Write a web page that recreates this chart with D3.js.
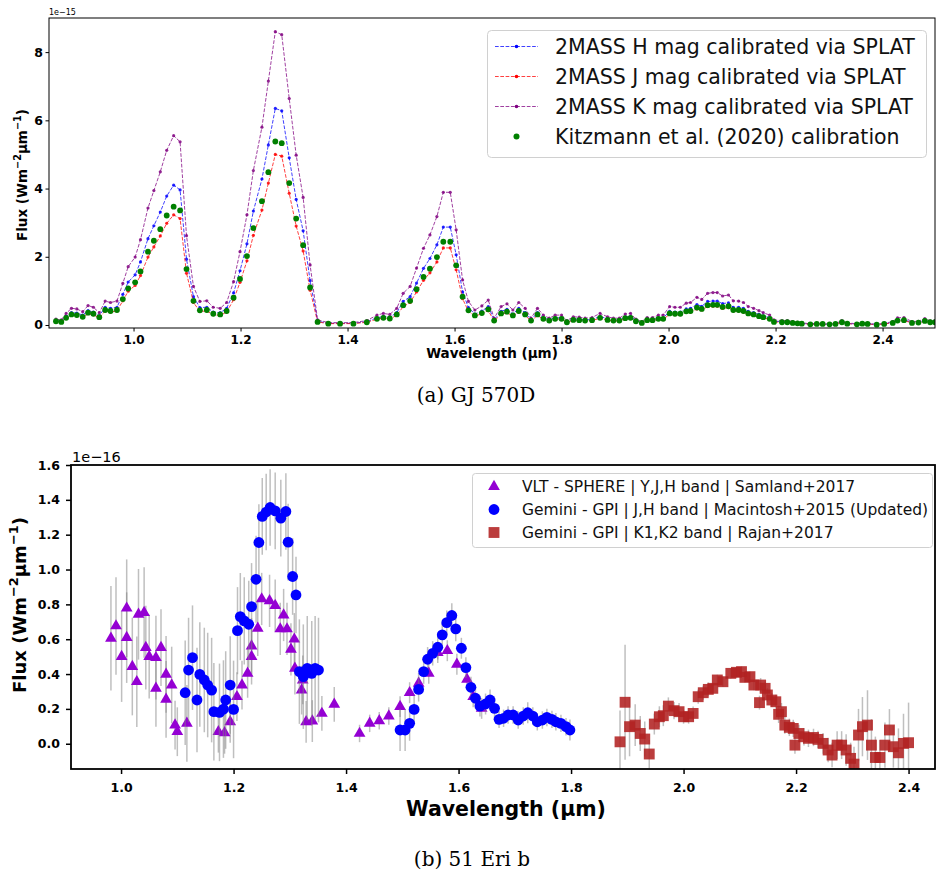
<!DOCTYPE html>
<html>
<head>
<meta charset="utf-8">
<script src="https://cdn.jsdelivr.net/npm/d3@7"></script>
<style>
  body { margin: 0; background: #fff; }
  svg { display: block; }
  text { font-family: "DejaVu Sans", sans-serif; }
  text.caption { font-family: "DejaVu Serif", "Liberation Serif", serif; }
</style>
</head>
<body>
<svg id="fig" width="936" height="872"></svg>
<script>
// ---------- (a) GJ 570D: SpeX spectrum flux-calibrated four ways (units of 1e-15) ----------
const gjWave = [
  0.855,0.865,0.874,0.884,0.894,0.905,0.915,0.925,0.936,0.947,0.957,0.969,0.980,0.990,1.003,1.013,1.027,1.038,1.050,1.062,1.075,1.087,1.099,1.112,1.124,1.137,1.149,1.162,1.174,1.187,1.199,1.212,1.224,1.240,1.252,1.265,1.277,1.291,1.304,1.317,1.330,1.344,
  1.364,1.386,1.411,1.436,1.455,1.467,1.479,1.492,1.504,1.517,1.529,1.542,1.554,1.567,1.579,1.592,1.603,1.615,1.626,1.638,1.651,1.663,1.674,1.687,1.698,1.709,1.720,1.732,1.743,1.755,1.766,1.777,1.788,1.800,1.810,1.822,1.833,1.844,1.857,1.872,1.886,1.897,1.908,
  1.919,1.929,1.939,1.950,1.960,1.970,1.981,1.990,2.002,2.012,2.022,2.033,2.041,2.053,2.062,2.073,2.083,2.091,2.101,2.112,2.121,2.131,2.140,2.149,2.159,2.169,2.177,2.189,2.197,2.212,2.222,2.232,2.241,2.249,2.265,2.277,2.288,2.301,2.312,2.324,2.334,2.352,2.362,2.372,2.389,2.403,2.419,2.428,2.440,2.455,2.467,2.479,2.489,2.498
];
const gjFluxH = [
  0.13,0.11,0.25,0.36,0.35,0.29,0.42,0.38,0.27,0.52,0.49,0.52,0.90,1.26,1.47,1.85,2.53,2.91,3.31,3.78,4.10,3.96,1.93,0.83,0.51,0.52,0.38,0.36,0.49,0.94,1.59,2.38,3.34,4.28,5.28,6.35,6.28,4.90,3.68,2.76,1.30,0.11,
  0.05,0.05,0.05,0.10,0.21,0.25,0.23,0.36,0.69,0.83,1.23,1.66,1.95,2.35,2.87,2.87,2.06,0.97,0.51,0.32,0.41,0.54,0.15,0.40,0.46,0.32,0.49,0.36,0.15,0.36,0.21,0.15,0.21,0.21,0.10,0.18,0.17,0.15,0.16,0.25,0.18,0.15,0.15,
  0.24,0.25,0.13,0.07,0.16,0.16,0.21,0.21,0.40,0.38,0.38,0.47,0.49,0.60,0.55,0.69,0.70,0.70,0.63,0.65,0.52,0.52,0.49,0.40,0.36,0.31,0.27,0.21,0.11,0.10,0.10,0.07,0.06,0.05,0.02,0.04,0.03,0.02,0.03,0.10,0.05,0.02,0.05,0.04,0.01,0.04,0.07,0.15,0.16,0.07,0.08,0.14,0.09,0.10
];
const gjFluxJ = [
  0.10,0.09,0.20,0.28,0.27,0.23,0.33,0.30,0.21,0.41,0.38,0.41,0.71,0.99,1.16,1.45,1.99,2.29,2.61,2.98,3.23,3.12,1.52,0.66,0.40,0.41,0.30,0.28,0.38,0.74,1.25,1.88,2.63,3.37,4.16,5.00,4.95,3.86,2.90,2.17,1.02,0.09,
  0.04,0.04,0.04,0.08,0.17,0.20,0.18,0.28,0.54,0.66,0.97,1.31,1.53,1.85,2.26,2.26,1.62,0.77,0.40,0.26,0.33,0.42,0.12,0.31,0.36,0.26,0.38,0.28,0.12,0.28,0.17,0.12,0.17,0.17,0.08,0.14,0.13,0.12,0.13,0.20,0.14,0.12,0.12,
  0.19,0.20,0.10,0.06,0.13,0.13,0.17,0.17,0.31,0.30,0.30,0.37,0.38,0.47,0.44,0.54,0.55,0.55,0.49,0.51,0.41,0.41,0.38,0.31,0.28,0.24,0.21,0.17,0.09,0.08,0.08,0.06,0.05,0.04,0.02,0.03,0.02,0.02,0.02,0.08,0.04,0.02,0.04,0.03,0.01,0.03,0.06,0.12,0.13,0.06,0.06,0.11,0.07,0.08
];
const gjFluxK = [
  0.17,0.15,0.34,0.49,0.47,0.39,0.57,0.52,0.36,0.70,0.66,0.70,1.22,1.71,1.99,2.50,3.43,3.94,4.49,5.12,5.55,5.37,2.62,1.13,0.69,0.71,0.52,0.49,0.66,1.27,2.15,3.23,4.53,5.80,7.15,8.60,8.51,6.64,4.98,3.74,1.76,0.15,
  0.07,0.07,0.07,0.13,0.29,0.34,0.31,0.49,0.93,1.13,1.67,2.25,2.64,3.18,3.89,3.89,2.79,1.32,0.69,0.44,0.56,0.73,0.20,0.54,0.62,0.44,0.66,0.49,0.20,0.49,0.29,0.20,0.29,0.29,0.13,0.24,0.23,0.20,0.22,0.34,0.24,0.20,0.20,
  0.32,0.34,0.17,0.10,0.22,0.22,0.29,0.29,0.54,0.52,0.52,0.64,0.66,0.81,0.75,0.93,0.95,0.95,0.85,0.88,0.71,0.70,0.66,0.54,0.49,0.42,0.36,0.29,0.15,0.13,0.13,0.10,0.08,0.07,0.03,0.05,0.04,0.03,0.04,0.13,0.07,0.03,0.07,0.05,0.02,0.05,0.10,0.21,0.22,0.10,0.11,0.19,0.12,0.13
];
const gjFluxKitzmann = [
  0.11,0.09,0.21,0.31,0.29,0.24,0.36,0.33,0.23,0.44,0.41,0.44,0.76,1.07,1.25,1.57,2.15,2.47,2.81,3.21,3.47,3.36,1.64,0.71,0.43,0.44,0.33,0.31,0.41,0.80,1.35,2.02,2.84,3.63,4.48,5.38,5.33,4.16,3.12,2.34,1.10,0.09,
  0.04,0.04,0.04,0.08,0.18,0.21,0.19,0.31,0.58,0.71,1.05,1.41,1.65,1.99,2.44,2.44,1.75,0.83,0.43,0.28,0.35,0.46,0.13,0.34,0.39,0.28,0.41,0.31,0.13,0.31,0.18,0.13,0.18,0.18,0.08,0.15,0.14,0.13,0.14,0.21,0.15,0.13,0.13,
  0.20,0.21,0.11,0.06,0.14,0.14,0.18,0.18,0.34,0.33,0.33,0.40,0.41,0.51,0.47,0.58,0.59,0.59,0.53,0.55,0.44,0.44,0.41,0.34,0.31,0.26,0.23,0.18,0.09,0.08,0.08,0.06,0.05,0.04,0.02,0.03,0.03,0.02,0.03,0.08,0.04,0.02,0.04,0.03,0.01,0.03,0.06,0.13,0.14,0.06,0.07,0.12,0.08,0.08
];
const gjSeriesNames = [
  "2MASS H mag calibrated via SPLAT",
  "2MASS J mag calibrated via SPLAT",
  "2MASS K mag calibrated via SPLAT",
  "Kitzmann et al. (2020) calibration"
];
const gjXTicks = [1.0, 1.2, 1.4, 1.6, 1.8, 2.0, 2.2, 2.4];
const gjYTicks = [0, 2, 4, 6, 8];

// ---------- (b) 51 Eri b: photometric spectra from three programmes (units of 1e-16) ----------
const sphereWave = [0.982,0.991,1.001,1.010,1.010,1.020,1.028,1.031,1.041,1.044,1.050,1.062,1.062,1.071,1.080,1.080,1.090,1.096,1.100,1.117,
  1.173,1.184,1.194,1.206,1.215,1.225,1.232,1.232,1.243,1.250,1.264,1.274,1.283,1.289,1.295,1.302,1.308,1.309,1.321,1.323,1.329,1.340,1.357,1.379,
  1.424,1.442,1.459,1.476,1.496,1.513,1.529,1.547,1.563,1.580,1.597,1.615,1.626,1.641];
const sphereFlux = [0.605,0.676,0.500,0.778,0.609,0.443,0.356,0.743,0.753,0.552,0.500,0.494,0.318,0.552,0.398,0.255,0.337,0.107,0.069,0.117,
  0.069,0.063,0.126,0.270,0.337,0.404,0.500,0.561,0.663,0.831,0.820,0.793,0.659,0.739,0.659,0.542,0.600,0.433,0.308,0.366,0.126,0.130,0.174,0.226,
  0.059,0.117,0.132,0.159,0.213,0.293,0.347,0.404,0.523,0.534,0.456,0.370,0.270,0.203];
const sphereErr = [0.30,0.28,0.26,0.28,0.26,0.28,0.26,0.26,0.26,0.24,0.24,0.24,0.22,0.22,0.22,0.22,0.22,0.14,0.14,0.22,
  0.12,0.12,0.12,0.14,0.14,0.14,0.16,0.16,0.16,0.15,0.15,0.15,0.15,0.15,0.15,0.15,0.15,0.15,0.14,0.14,0.12,0.12,0.10,0.10,
  0.05,0.05,0.05,0.05,0.06,0.06,0.06,0.06,0.06,0.06,0.06,0.06,0.06,0.06];

const gpiJHWave = [1.114,1.120,1.127,1.135,1.140,1.148,1.154,1.161,1.165,1.175,1.182,1.186,1.194,1.200,1.207,1.212,1.219,1.227,1.232,1.240,1.245,1.251,1.258,1.265,1.274,1.284,1.293,1.297,1.305,1.311,1.317,1.324,1.331,1.339,1.345,1.351,
  1.496,1.505,1.513,1.521,1.529,1.538,1.545,1.554,1.563,1.571,1.579,1.588,1.595,1.605,1.613,1.622,1.630,1.638,1.648,1.656,1.664,1.672,1.680,1.688,1.697,1.706,1.715,1.723,1.732,1.740,1.749,1.757,1.766,1.773,1.782,1.791,1.798];
const gpiJHFlux = [0.293,0.423,0.494,0.251,0.398,0.366,0.337,0.308,0.184,0.180,0.199,0.251,0.337,0.197,0.649,0.730,0.705,0.686,0.787,0.944,1.155,1.305,1.330,1.356,1.337,1.295,1.333,1.157,0.960,0.854,0.414,0.385,0.433,0.404,0.433,0.423,
  0.079,0.079,0.117,0.197,0.312,0.414,0.485,0.519,0.554,0.625,0.695,0.736,0.659,0.548,0.437,0.324,0.261,0.216,0.228,0.251,0.203,0.140,0.146,0.165,0.165,0.136,0.159,0.178,0.159,0.126,0.136,0.151,0.140,0.126,0.117,0.098,0.079];
const gpiJHErr = [0.30,0.30,0.30,0.30,0.30,0.30,0.30,0.30,0.28,0.28,0.28,0.28,0.28,0.28,0.25,0.25,0.25,0.25,0.25,0.25,0.22,0.22,0.22,0.22,0.22,0.22,0.22,0.22,0.22,0.22,0.30,0.30,0.30,0.30,0.30,0.30,
  0.12,0.12,0.10,0.08,0.07,0.07,0.07,0.07,0.07,0.07,0.07,0.07,0.07,0.06,0.06,0.06,0.06,0.06,0.06,0.06,0.06,0.05,0.05,0.05,0.05,0.05,0.05,0.06,0.05,0.05,0.05,0.05,0.05,0.05,0.05,0.05,0.06];

const gpiKWave = [1.887,1.896,1.904,1.914,1.923,1.931,1.939,1.948,1.957,1.964,1.973,1.983,1.992,2.000,2.009,2.017,2.026,2.035,2.044,2.052,2.060,2.070,2.084,2.094,2.103,2.109,2.118,2.125,2.135,2.137,2.145,2.149,2.157,2.164,2.169,2.174,2.180,2.188,2.195,2.198,2.205,2.214,2.222,2.231,2.239,2.248,2.257,2.264,2.273,2.281,2.289,2.297,2.303,2.311,2.318,2.327,2.334,2.341,2.349,2.358,2.366,2.373,2.382,2.391,2.400];
const gpiKFlux = [0.011,0.238,0.098,0.107,0.059,0.027,-0.059,0.113,0.155,0.161,0.216,0.190,0.184,0.155,0.155,0.174,0.270,0.293,0.312,0.318,0.366,0.356,0.404,0.410,0.414,0.381,0.385,0.337,0.236,0.337,0.318,0.280,0.251,0.241,0.169,0.184,0.107,0.094,0.088,-0.008,0.059,0.040,0.031,0.036,0.025,0.002,-0.036,-0.065,-0.008,-0.008,-0.036,-0.084,-0.117,0.050,0.098,0.107,-0.008,-0.079,-0.079,-0.008,0.079,-0.017,-0.052,0.002,0.006];
const gpiKErr = [0.18,0.33,0.17,0.12,0.10,0.10,0.08,0.06,0.06,0.06,0.05,0.05,0.05,0.04,0.04,0.04,0.04,0.04,0.04,0.03,0.03,0.03,0.03,0.03,0.03,0.03,0.03,0.03,0.04,0.04,0.04,0.04,0.04,0.04,0.05,0.05,0.05,0.05,0.05,0.05,0.05,0.05,0.05,0.05,0.05,0.06,0.07,0.07,0.08,0.08,0.09,0.09,0.10,0.15,0.17,0.20,0.15,0.12,0.10,0.13,0.12,0.12,0.14,0.17,0.23];

const eriSeriesNames = [
  "VLT - SPHERE | Y,J,H band | Samland+2017",
  "Gemini - GPI | J,H band | Macintosh+2015 (Updated)",
  "Gemini - GPI | K1,K2 band | Rajan+2017"
];
const eriXTicks = [1.0, 1.2, 1.4, 1.6, 1.8, 2.0, 2.2, 2.4];
const eriYTicks = [0.0, 0.2, 0.4, 0.6, 0.8, 1.0, 1.2, 1.4, 1.6];

// ---------------------------------------------------------------------------
const svg = d3.select("#fig");
const defs = svg.append("defs");

// "Flux (Wm^-2 µm^-1)" with raised exponents
function fluxLabel(sel, size) {
  const parts = [["Flux (Wm", 0], ["\u22122", 1], ["\u00b5m", 0], ["\u22121", 1], [")", 0]];
  const rise = size * 0.42;
  let up = false;
  parts.forEach(([t, sup]) => {
    const ts = sel.append("tspan").text(t);
    if (sup) { ts.attr("font-size", size * 0.72).attr("dy", -rise); up = true; }
    else if (up) { ts.attr("dy", rise); up = false; }
  });
}

function styleAxis(g, size) {
  g.select(".domain").remove();
  g.selectAll("text").attr("font-size", size).attr("font-weight", "bold").attr("fill", "#000");
}

// ===================== panel (a) =====================
const ax = { left: 49, top: 18, right: 935, bottom: 328 };
const gx = d3.scaleLinear().domain([0.842, 2.498]).range([ax.left, ax.right]);
const gy = d3.scaleLinear().domain([-0.088, 9.0]).range([ax.bottom, ax.top]);

defs.append("clipPath").attr("id", "clipA").append("rect")
  .attr("x", ax.left).attr("y", ax.top).attr("width", ax.right - ax.left).attr("height", ax.bottom - ax.top);

const pA = svg.append("g").attr("clip-path", "url(#clipA)");
const gjLines = [
  { vals: gjFluxH, color: "#0000ff" },
  { vals: gjFluxJ, color: "#ff0000" },
  { vals: gjFluxK, color: "#800080" }
];
const gjLine = d3.line().x((d, i) => gx(gjWave[i])).y(d => gy(d));
gjLines.forEach(s => {
  pA.append("path").attr("d", gjLine(s.vals)).attr("fill", "none")
    .attr("stroke", s.color).attr("stroke-width", 1).attr("stroke-dasharray", "3.7,1.6")
    .attr("stroke-opacity", 0.75);
  pA.append("g").selectAll("circle").data(s.vals).join("circle")
    .attr("cx", (d, i) => gx(gjWave[i])).attr("cy", d => gy(d)).attr("r", 1.6)
    .attr("fill", s.color).attr("fill-opacity", 0.85);
});
pA.append("g").selectAll("circle").data(gjFluxKitzmann).join("circle")
  .attr("cx", (d, i) => gx(gjWave[i])).attr("cy", d => gy(d)).attr("r", 2.9)
  .attr("fill", "#008000");

// axes (a)
svg.append("g").attr("transform", `translate(0,${ax.bottom})`)
  .call(d3.axisBottom(gx).tickValues(gjXTicks).tickFormat(d3.format(".1f")).tickSize(3.5).tickPadding(3.5))
  .call(g => styleAxis(g, 12));
svg.append("g").attr("transform", `translate(${ax.left},0)`)
  .call(d3.axisLeft(gy).tickValues(gjYTicks).tickFormat(d3.format("d")).tickSize(3.5).tickPadding(2.5))
  .call(g => styleAxis(g, 12.5));
svg.append("rect").attr("x", ax.left).attr("y", ax.top)
  .attr("width", ax.right - ax.left).attr("height", ax.bottom - ax.top)
  .attr("fill", "none").attr("stroke", "#000").attr("stroke-width", 1);

svg.append("text").attr("x", ax.left).attr("y", 15).attr("font-size", 8).text("1e\u221215");
svg.append("text").attr("x", 492).attr("y", 358).attr("text-anchor", "middle")
  .attr("font-size", 13.5).attr("font-weight", "bold").text("Wavelength (\u00b5m)");
svg.append("text").attr("transform", "translate(27,175) rotate(-90)").attr("text-anchor", "middle")
  .attr("font-size", 13.5).attr("font-weight", "bold").call(s => fluxLabel(s, 13.5));

// legend (a)
const legA = svg.append("g");
legA.append("rect").attr("x", 487.5).attr("y", 30.5).attr("width", 439).attr("height", 127)
  .attr("rx", 4).attr("fill", "#fff").attr("fill-opacity", 0.8).attr("stroke", "#d0d0d0").attr("stroke-width", 1);
const legColors = ["#0000ff", "#ff0000", "#800080", "#008000"];
gjSeriesNames.forEach((name, i) => {
  const yy = 46.5 + i * 30;
  if (i < 3) {
    legA.append("line").attr("x1", 495).attr("x2", 538).attr("y1", yy).attr("y2", yy)
      .attr("stroke", legColors[i]).attr("stroke-width", 1).attr("stroke-dasharray", "3.7,1.6").attr("stroke-opacity", 0.75);
    legA.append("circle").attr("cx", 516.5).attr("cy", yy).attr("r", 1.8).attr("fill", legColors[i]);
  } else {
    legA.append("circle").attr("cx", 516.5).attr("cy", yy).attr("r", 3).attr("fill", legColors[i]);
  }
  legA.append("text").attr("x", 555).attr("y", yy).attr("dy", "0.36em")
    .attr("font-size", 20.5).attr("fill", "#111").text(name);
});

svg.append("text").attr("class", "caption").attr("x", 476).attr("y", 402).attr("text-anchor", "middle")
  .attr("font-size", 20).text("(a) GJ 570D");

// ===================== panel (b) =====================
const bx = { left: 71, top: 465, right: 935, bottom: 769 };
const ex = d3.scaleLinear().domain([0.911, 2.447]).range([bx.left, bx.right]);
const ey = d3.scaleLinear().domain([-0.145, 1.6]).range([bx.bottom, bx.top]);

defs.append("clipPath").attr("id", "clipB").append("rect")
  .attr("x", bx.left).attr("y", bx.top).attr("width", bx.right - bx.left).attr("height", bx.bottom - bx.top);

const pB = svg.append("g").attr("clip-path", "url(#clipB)");
const triangle = d3.symbol().type(d3.symbolTriangle).size(60)();
const square = d3.symbol().type(d3.symbolSquare).size(118)();

const eriSeries = [
  { w: sphereWave, f: sphereFlux, e: sphereErr, kind: "tri", color: "#9400d3", op: 1 },
  { w: gpiJHWave, f: gpiJHFlux, e: gpiJHErr, kind: "dot", color: "#0000ff", op: 1 },
  { w: gpiKWave, f: gpiKFlux, e: gpiKErr, kind: "sq", color: "#b22222", op: 0.88 }
];
eriSeries.forEach(s => {
  pB.append("g").selectAll("line").data(s.f).join("line")
    .attr("x1", (d, i) => ex(s.w[i])).attr("x2", (d, i) => ex(s.w[i]))
    .attr("y1", (d, i) => ey(d - s.e[i])).attr("y2", (d, i) => ey(d + s.e[i]))
    .attr("stroke", "#808080").attr("stroke-opacity", 0.5).attr("stroke-width", 1.5);
  const mg = pB.append("g");
  if (s.kind === "dot") {
    mg.selectAll("circle").data(s.f).join("circle")
      .attr("cx", (d, i) => ex(s.w[i])).attr("cy", d => ey(d)).attr("r", 5.4)
      .attr("fill", s.color).attr("fill-opacity", s.op);
  } else {
    mg.selectAll("path").data(s.f).join("path")
      .attr("d", s.kind === "tri" ? triangle : square)
      .attr("transform", (d, i) => `translate(${ex(s.w[i])},${ey(d)})`)
      .attr("fill", s.color).attr("fill-opacity", s.op);
  }
});

// axes (b)
svg.append("g").attr("transform", `translate(0,${bx.bottom})`)
  .call(d3.axisBottom(ex).tickValues(eriXTicks).tickFormat(d3.format(".1f")).tickSize(5).tickPadding(9))
  .call(g => styleAxis(g, 12.5))
  .call(g => g.selectAll("line").attr("stroke-width", 1.5));
svg.append("g").attr("transform", `translate(${bx.left},0)`)
  .call(d3.axisLeft(ey).tickValues(eriYTicks).tickFormat(d3.format(".1f")).tickSize(5).tickPadding(6))
  .call(g => styleAxis(g, 12.5))
  .call(g => g.selectAll("line").attr("stroke-width", 1.5));
svg.append("rect").attr("x", bx.left).attr("y", bx.top)
  .attr("width", bx.right - bx.left).attr("height", bx.bottom - bx.top)
  .attr("fill", "none").attr("stroke", "#000").attr("stroke-width", 1.8);

svg.append("text").attr("x", 72).attr("y", 462).attr("font-size", 14.5).text("1e\u221216");
svg.append("text").attr("x", 506).attr("y", 816).attr("text-anchor", "middle")
  .attr("font-size", 20.5).attr("font-weight", "bold").text("Wavelength (\u00b5m)");
svg.append("text").attr("transform", "translate(26,605) rotate(-90)").attr("text-anchor", "middle")
  .attr("font-size", 18).attr("font-weight", "bold").call(s => fluxLabel(s, 18));

// legend (b)
const legB = svg.append("g");
legB.append("rect").attr("x", 472.5).attr("y", 473.5).attr("width", 460).attr("height", 74)
  .attr("rx", 3).attr("fill", "#fff").attr("fill-opacity", 0.8).attr("stroke", "#d0d0d0").attr("stroke-width", 1);
eriSeriesNames.forEach((name, i) => {
  const yy = 486.5 + i * 23;
  const s = eriSeries[i];
  if (s.kind === "dot") {
    legB.append("circle").attr("cx", 494).attr("cy", yy).attr("r", 5.4).attr("fill", s.color);
  } else {
    legB.append("path").attr("d", s.kind === "tri" ? triangle : square)
      .attr("transform", `translate(494,${yy})`).attr("fill", s.color).attr("fill-opacity", s.op);
  }
  legB.append("text").attr("x", 522).attr("y", yy).attr("dy", "0.36em")
    .attr("font-size", 15.5).attr("fill", "#111").text(name);
});

svg.append("text").attr("class", "caption").attr("x", 472).attr("y", 866).attr("text-anchor", "middle")
  .attr("font-size", 20).text("(b) 51 Eri b");
</script>
</body>
</html>
